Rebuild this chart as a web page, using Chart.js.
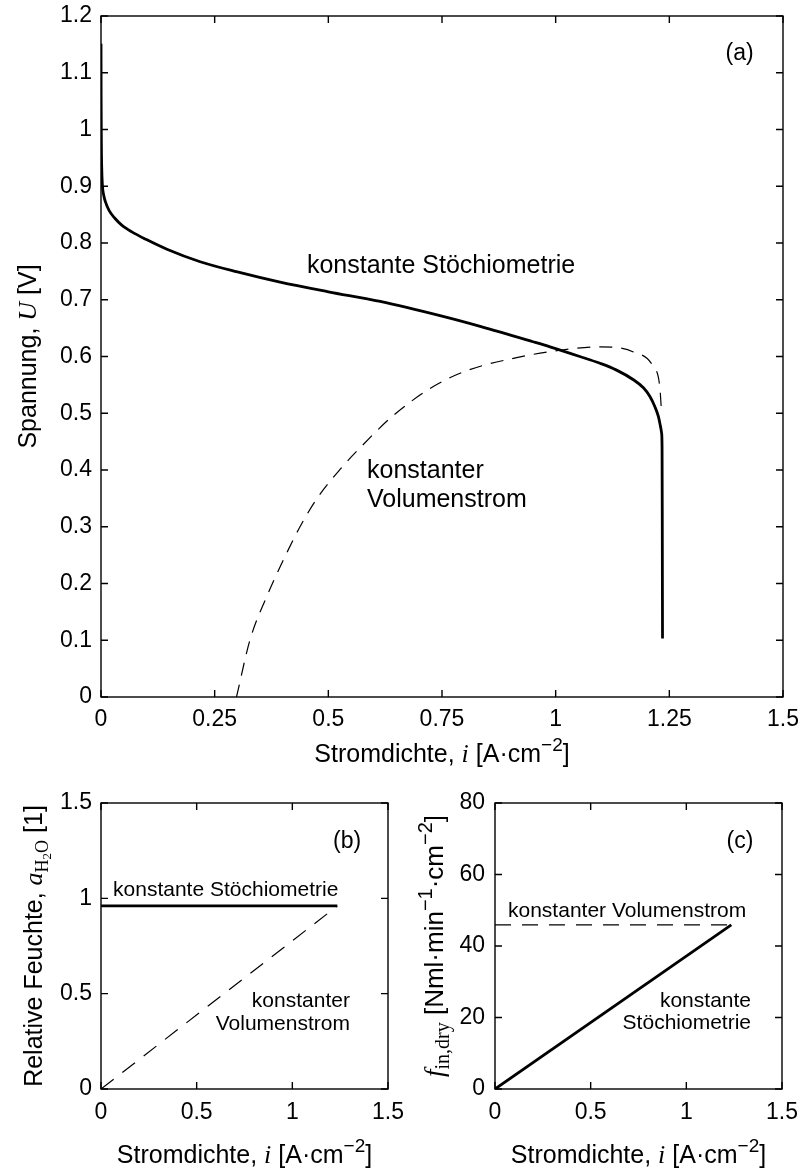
<!DOCTYPE html>
<html>
<head>
<meta charset="utf-8">
<script src="https://cdn.jsdelivr.net/npm/chart.js@4.4.0/dist/chart.umd.min.js"></script>
<style>
html,body{margin:0;padding:0;background:#fff;}
body{width:802px;height:1168px;position:relative;overflow:hidden;}
canvas{position:absolute;}
#cA{left:0;top:0;}
#cB{left:0;top:780px;}
#cC{left:401px;top:780px;}
</style>
</head>
<body>
<canvas id="cA" width="802" height="780"></canvas>
<canvas id="cB" width="430" height="388"></canvas>
<canvas id="cC" width="401" height="388"></canvas>
<script>
// ---------- data: panel (a) polarisation curves ----------
const iStoich = [0, 0.0003, 0.0008, 0.0015, 0.003, 0.006, 0.01, 0.018, 0.03, 0.045, 0.067, 0.1, 0.145, 0.218, 0.3, 0.394, 0.5, 0.614, 0.75, 0.834, 0.95, 0.9875, 1.053, 1.0975, 1.134, 1.171, 1.193, 1.207, 1.218, 1.226, 1.23, 1.233, 1.234, 1.2345, 1.235];
const uStoich = [1.151, 1.05, 0.975, 0.935, 0.903, 0.884, 0.872, 0.857, 0.844, 0.832, 0.820, 0.806, 0.789, 0.767, 0.749, 0.731, 0.714, 0.697, 0.671, 0.653, 0.626, 0.617, 0.600, 0.588, 0.576, 0.559, 0.545, 0.530, 0.512, 0.494, 0.479, 0.465, 0.44, 0.3, 0.103];
const iVol = [0.298, 0.3276, 0.3643, 0.401, 0.4377, 0.4744, 0.5257, 0.5696, 0.6429, 0.7309, 0.8043, 0.9143, 1.0095, 1.0975, 1.171, 1.2147, 1.229, 1.233];
const uVol = [0, 0.1004, 0.1767, 0.2413, 0.300, 0.349, 0.401, 0.439, 0.496, 0.547, 0.575, 0.598, 0.611, 0.617, 0.608, 0.582, 0.5466, 0.50];
const xTicksA = [0, 0.25, 0.5, 0.75, 1, 1.25, 1.5];
const xTickLabelsA = ['0', '0.25', '0.5', '0.75', '1', '1.25', '1.5'];
const yTicksA = [0, 0.1, 0.2, 0.3, 0.4, 0.5, 0.6, 0.7, 0.8, 0.9, 1, 1.1, 1.2];
const yTickLabelsA = ['0', '0.1', '0.2', '0.3', '0.4', '0.5', '0.6', '0.7', '0.8', '0.9', '1', '1.1', '1.2'];

// ---------- data: panels (b) and (c) ----------
const iOp = [0, 1.235];
const rhStoich = [0.96, 0.96];
const rhVol = [0, 0.96];
const flowStoich = [0, 45.9];
const flowVol = [45.9, 45.9];
const xTicksBC = [0, 0.5, 1, 1.5];
const xTickLabelsBC = ['0', '0.5', '1', '1.5'];
const yTicksB = [0, 0.5, 1, 1.5];
const yTickLabelsB = ['0', '0.5', '1', '1.5'];
const yTicksC = [0, 20, 40, 60, 80];
const yTickLabelsC = ['0', '20', '40', '60', '80'];

// ---------- helpers ----------
const SANS = '"Liberation Sans", Arial, Helvetica, sans-serif';
const SERIF = '"Liberation Serif", "Times New Roman", serif';
const F = (size, fam, style) => (style ? style + ' ' : '') + size + 'px ' + fam;
const pts = (xs, ys) => xs.map((x, k) => ({x: x, y: ys[k]}));

function richWidth(ctx, segs) {
  let w = 0;
  for (const s of segs) { ctx.font = s.f; w += ctx.measureText(s.t).width; }
  return w;
}
function drawRich(ctx, segs, x, y, align) {
  const w = richWidth(ctx, segs);
  let cx = align === 'center' ? x - w / 2 : (align === 'right' ? x - w : x);
  ctx.textAlign = 'left';
  ctx.textBaseline = 'alphabetic';
  for (const s of segs) {
    ctx.font = s.f;
    ctx.fillText(s.t, cx, y + (s.dy || 0));
    cx += ctx.measureText(s.t).width;
  }
}

const TS = 25; // axis title size
const xTitleSegs = [
  {t: 'Stromdichte, ', f: F(TS, SANS)},
  {t: 'i', f: F(TS + 1, SERIF, 'italic')},
  {t: ' [A\u00B7cm', f: F(TS, SANS)},
  {t: '\u22122', f: F(19, SANS), dy: -11},
  {t: ']', f: F(TS, SANS)}
];
const yTitleA = [
  {t: 'Spannung, ', f: F(TS, SANS)},
  {t: 'U', f: F(TS + 1, SERIF, 'italic')},
  {t: ' [V]', f: F(TS, SANS)}
];
const yTitleB = [
  {t: 'Relative Feuchte, ', f: F(TS, SANS)},
  {t: 'a', f: F(TS + 1, SERIF, 'italic')},
  {t: 'H', f: F(18, SERIF), dy: 6},
  {t: '2', f: F(13, SERIF), dy: 9},
  {t: 'O', f: F(18, SERIF), dy: 6},
  {t: ' [1]', f: F(TS, SANS)}
];
const yTitleC = [
  {t: 'f', f: F(TS + 2, SERIF, 'italic')},
  {t: 'in,dry', f: F(20, SERIF), dy: 6},
  {t: ' [Nml\u00B7min', f: F(TS + 1, SANS)},
  {t: '\u22121', f: F(20, SANS), dy: -11},
  {t: '\u00B7cm', f: F(TS + 1, SANS)},
  {t: '\u22122', f: F(20, SANS), dy: -11},
  {t: ']', f: F(TS + 1, SANS)}
];

// frame (box + inward ticks), axis titles and text annotations
const decorPlugin = {
  id: 'decor',
  afterDatasetsDraw(chart, args, o) {
    const ctx = chart.ctx, a = chart.chartArea;
    const xs = chart.scales.x, ys = chart.scales.y;
    ctx.save();
    ctx.strokeStyle = '#000';
    ctx.lineWidth = 1.4;
    ctx.strokeRect(a.left, a.top, a.right - a.left, a.bottom - a.top);
    const L = 7;
    ctx.beginPath();
    xs.ticks.forEach(t => {
      const p = xs.getPixelForValue(t.value);
      ctx.moveTo(p, a.bottom); ctx.lineTo(p, a.bottom - L);
      ctx.moveTo(p, a.top); ctx.lineTo(p, a.top + L);
    });
    ys.ticks.forEach(t => {
      const p = ys.getPixelForValue(t.value);
      ctx.moveTo(a.left, p); ctx.lineTo(a.left + L, p);
      ctx.moveTo(a.right, p); ctx.lineTo(a.right - L, p);
    });
    ctx.stroke();
    ctx.fillStyle = '#000';
    // x title
    drawRich(ctx, o.xTitle, (a.left + a.right) / 2, o.xTitleY, 'center');
    // y title (rotated)
    ctx.save();
    ctx.translate(o.yTitleX, (a.top + a.bottom) / 2);
    ctx.rotate(-Math.PI / 2);
    drawRich(ctx, o.yTitle, 0, 0, 'center');
    ctx.restore();
    // annotations in data coordinates
    (o.notes || []).forEach(n => {
      ctx.font = n.font;
      ctx.textAlign = n.align;
      ctx.textBaseline = 'alphabetic';
      ctx.fillText(n.text, xs.getPixelForValue(n.x), ys.getPixelForValue(n.y));
    });
    ctx.restore();
  }
};

function axis(min, max, ticksArr, labelsArr, size, pad, isY) {
  return {
    type: 'linear', min: min, max: max,
    afterBuildTicks: s => { s.ticks = ticksArr.map(v => ({value: v})); },
    afterFit: s => {
      if (isY) s.width = size; else s.height = size;
      s.paddingLeft = 0; s.paddingRight = 0; s.paddingTop = 0; s.paddingBottom = 0;
    },
    grid: {display: false, drawTicks: false},
    border: {display: false},
    ticks: {
      color: '#000', padding: pad, autoSkip: false, maxRotation: 0,
      font: {family: SANS, size: 23},
      callback: (v, idx) => labelsArr[idx]
    }
  };
}

function baseOpts(padding, xAx, yAx, decor) {
  return {
    responsive: false, animation: false, devicePixelRatio: 1,
    layout: {padding: padding},
    scales: {x: xAx, y: yAx},
    plugins: {legend: {display: false}, tooltip: {enabled: false}, decor: decor},
    elements: {point: {radius: 0}, line: {borderCapStyle: 'butt', borderJoinStyle: 'round'}}
  };
}

// ---------- chart (a) ----------
new Chart(document.getElementById('cA'), {
  type: 'line',
  data: {datasets: [
    {label: 'konstante Stöchiometrie', data: pts(iStoich, uStoich), borderColor: '#000', borderWidth: 2.8, cubicInterpolationMode: 'monotone', fill: false},
    {label: 'konstanter Volumenstrom', data: pts(iVol, uVol), borderColor: '#000', borderWidth: 1.2, borderDash: [13, 9], cubicInterpolationMode: 'monotone', fill: false}
  ]},
  options: baseOpts({top: 16, right: 19, left: 0, bottom: 0},
    axis(0, 1.5, xTicksA, xTickLabelsA, 83, 9, false),
    axis(0, 1.2, yTicksA, yTickLabelsA, 101, 9, true),
    {
      xTitle: xTitleSegs, xTitleY: 762, yTitle: yTitleA, yTitleX: 36,
      notes: [
        {text: 'konstante Stöchiometrie', x: 0.453, y: 0.747, align: 'left', font: F(25, SANS)},
        {text: 'konstanter', x: 0.585, y: 0.386, align: 'left', font: F(25, SANS)},
        {text: 'Volumenstrom', x: 0.585, y: 0.335, align: 'left', font: F(25, SANS)},
        {text: '(a)', x: 1.4045, y: 1.122, align: 'center', font: F(23, SANS)}
      ]
    }),
  plugins: [decorPlugin]
});

// ---------- chart (b) ----------
new Chart(document.getElementById('cB'), {
  type: 'line',
  data: {datasets: [
    {label: 'konstante Stöchiometrie', data: pts(iOp, rhStoich), borderColor: '#000', borderWidth: 2.8, fill: false},
    {label: 'konstanter Volumenstrom', data: pts(iOp, rhVol), borderColor: '#000', borderWidth: 1.2, borderDash: [16, 11], fill: false}
  ]},
  options: baseOpts({top: 23, right: 42, left: 0, bottom: 0},
    axis(0, 1.5, xTicksBC, xTickLabelsBC, 79, 10, false),
    axis(0, 1.5, yTicksB, yTickLabelsB, 101, 9, true),
    {
      xTitle: xTitleSegs, xTitleY: 383, yTitle: yTitleB, yTitleX: 42,
      notes: [
        {text: 'konstante Stöchiometrie', x: 0.063, y: 1.012, align: 'left', font: F(21, SANS)},
        {text: 'konstanter', x: 1.301, y: 0.43, align: 'right', font: F(21, SANS)},
        {text: 'Volumenstrom', x: 1.301, y: 0.309, align: 'right', font: F(21, SANS)},
        {text: '(b)', x: 1.286, y: 1.264, align: 'center', font: F(23, SANS)}
      ]
    }),
  plugins: [decorPlugin]
});

// ---------- chart (c) ----------
new Chart(document.getElementById('cC'), {
  type: 'line',
  data: {datasets: [
    {label: 'konstante Stöchiometrie', data: pts(iOp, flowStoich), borderColor: '#000', borderWidth: 2.8, fill: false},
    {label: 'konstanter Volumenstrom', data: pts(iOp, flowVol), borderColor: '#000', borderWidth: 1.2, borderDash: [16, 11], fill: false}
  ]},
  options: baseOpts({top: 23, right: 20, left: 0, bottom: 0},
    axis(0, 1.5, xTicksBC, xTickLabelsBC, 79, 10, false),
    axis(0, 80, yTicksC, yTickLabelsC, 94, 10, true),
    {
      xTitle: xTitleSegs, xTitleY: 383, yTitle: yTitleC, yTitleX: 42,
      notes: [
        {text: 'konstanter Volumenstrom', x: 0.068, y: 48.1, align: 'left', font: F(21, SANS)},
        {text: 'konstante', x: 1.338, y: 22.9, align: 'right', font: F(21, SANS)},
        {text: 'Stöchiometrie', x: 1.338, y: 16.8, align: 'right', font: F(21, SANS)},
        {text: '(c)', x: 1.28, y: 67.4, align: 'center', font: F(23, SANS)}
      ]
    }),
  plugins: [decorPlugin]
});
</script>
</body>
</html>
